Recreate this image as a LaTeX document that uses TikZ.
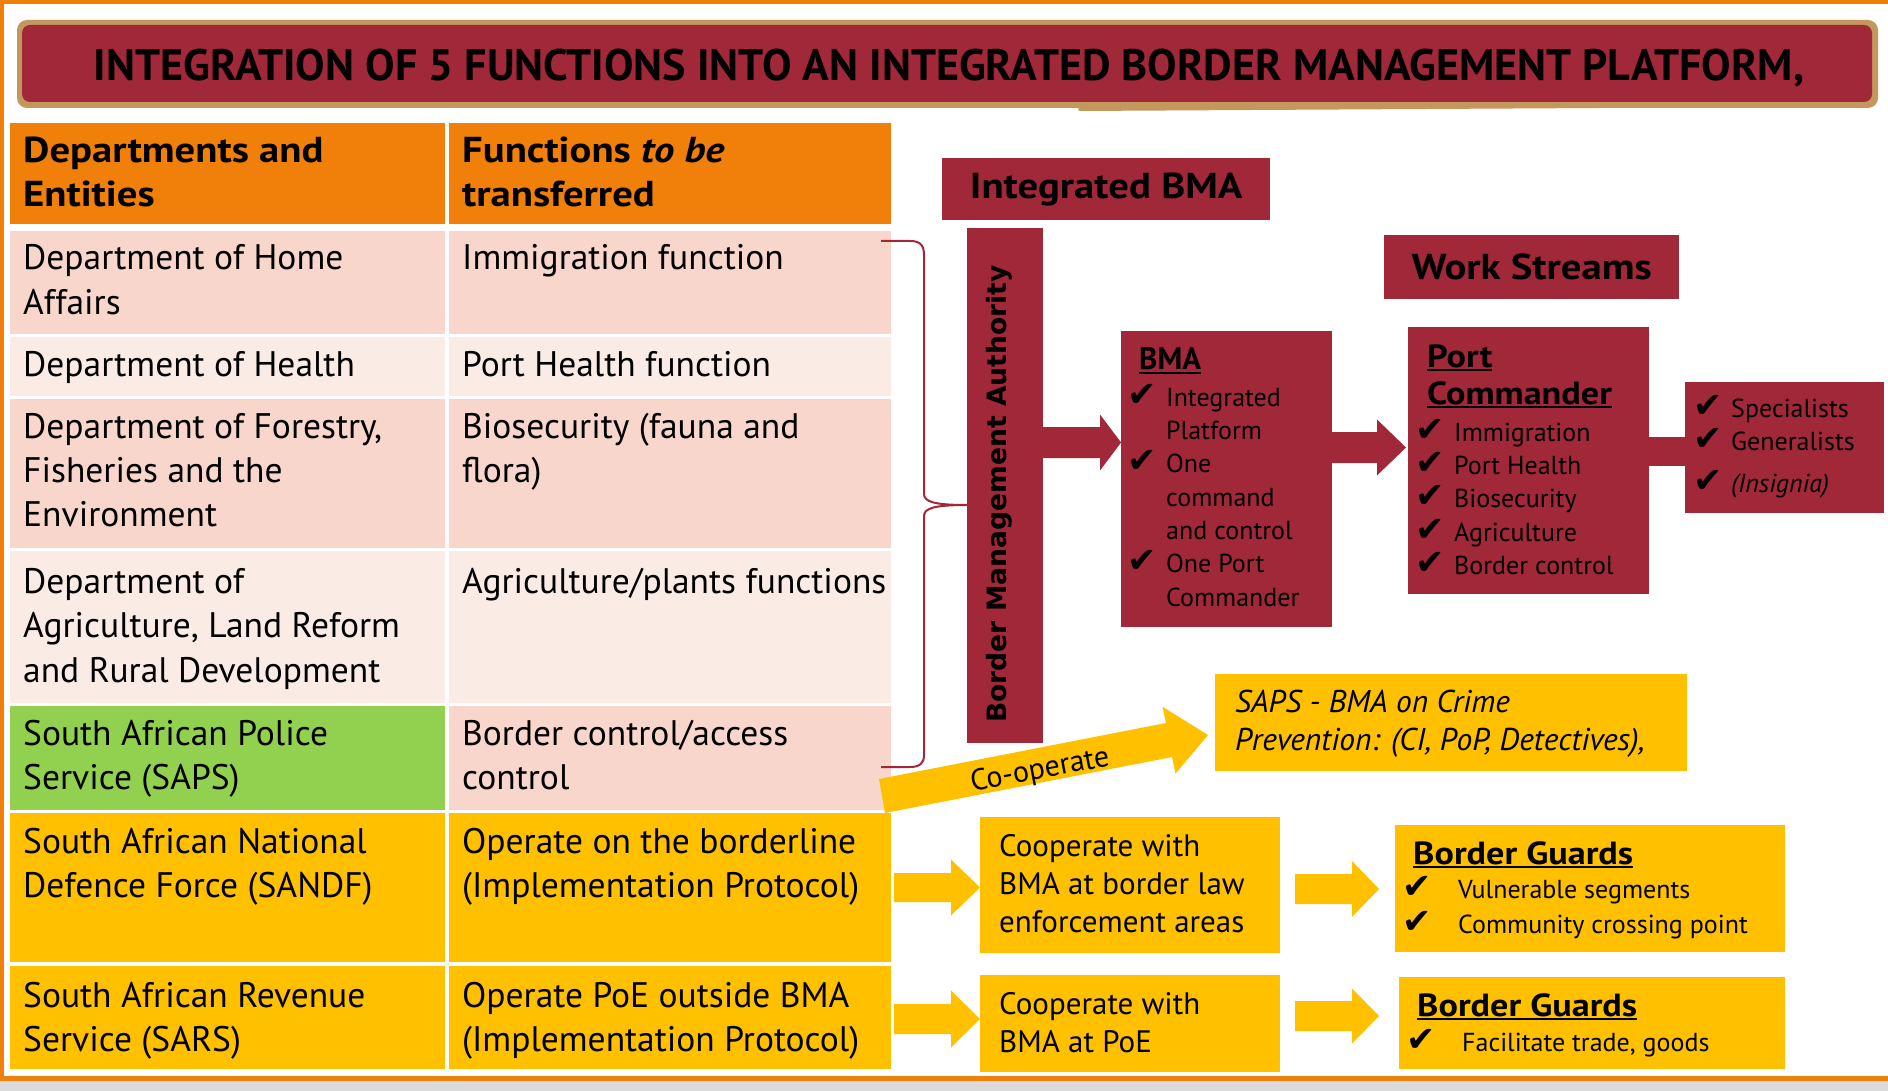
\documentclass[tikz,border=0pt]{standalone}
\usepackage{graphicx}
\usepackage{fontspec}
\setmainfont{PT Sans}
\newfontfamily\gfam{PT Sans}[FakeStretch=1.13]
\newfontfamily\vfont{DejaVu Sans}
\usetikzlibrary{calc}
\definecolor{bred}{RGB}{160,40,56}
\definecolor{tanc}{RGB}{196,152,92}
\definecolor{orng}{RGB}{240,128,10}
\definecolor{pinkA}{RGB}{248,214,203}
\definecolor{pinkB}{RGB}{251,235,229}
\definecolor{grn}{RGB}{146,208,80}
\definecolor{ylw}{RGB}{255,192,0}
\newcommand\fsz[2]{\fontsize{#1}{#2}\selectfont}
\newcommand\tfont{\fsz{35.5}{44.5}}
\newcommand\hfont{\gfam\fsz{36}{44.5}\bfseries}
\newcommand\lfont{\fsz{26}{33.4}}
\newcommand\cfont{\fsz{31}{38}}
\newcommand\bgfont{\gfam\fsz{32}{37}\bfseries}
\newcommand\hul[1]{\setbox0=\hbox{#1}\rlap{\copy0}\rule[-0.13em]{\wd0}{0.08em}}
\newcommand\ck{{\vfont\scalebox{1.35}{✔}}}
\newcommand\ci{\makebox[39pt][l]{\ck}}
\newcommand\cj{\makebox[38pt][l]{\ck}}
\newcommand\sk{\hspace*{39pt}}
\newcommand\cl[1]{\begin{tabular}[t]{@{}l@{}}#1\end{tabular}}
\newcommand\barrow[7]{\fill[#1] (#2,#5-#6) -- (#4,#5-#6) -- (#4,#5-#7) -- (#3,#5) -- (#4,#5+#7) -- (#4,#5+#6) -- (#2,#5+#6) -- cycle;}
\begin{document}
\begin{tikzpicture}[x=1pt,y=-1pt,
  txt/.style={anchor=base west, inner sep=0pt},
  rbox/.style={fill=bred, inner sep=0pt, anchor=north west},
  ybox/.style={fill=ylw, inner sep=0pt, anchor=north west}]
\useasboundingbox (0,0) rectangle (1888,1091);
\fill[white] (0,0) rectangle (1888,1091);
% frame
\fill[orng] (0,0) rectangle (1888,4);
\fill[orng] (0,0) rectangle (4,1080);
\fill[orng] (0,1076) rectangle (1888,1081);
\fill[black!14] (0,1081) rectangle (1888,1091);
% title banner
\fill[tanc, rounded corners=10] (17,20) rectangle (1878,108);
\fill[tanc] (1076,100) -- (1079,111) -- (1600,108) -- (1600,100) -- cycle;
\fill[bred, rounded corners=8] (22,25) rectangle (1872,102);
\node[font=\bfseries, inner sep=0pt] (title) at (949,68) {\resizebox{1710pt}{!}{INTEGRATION OF 5 FUNCTIONS INTO AN INTEGRATED BORDER MANAGEMENT PLATFORM,}};
% table backgrounds
\fill[orng] (10,123) rectangle (445,224);
\fill[orng] (449,123) rectangle (891,224);
\fill[pinkA] (10,231) rectangle (445,334);
\fill[pinkA] (449,231) rectangle (891,334);
\fill[pinkB] (10,337) rectangle (445,396);
\fill[pinkB] (449,337) rectangle (891,396);
\fill[pinkA] (10,399) rectangle (445,548);
\fill[pinkA] (449,399) rectangle (891,548);
\fill[pinkB] (10,551) rectangle (445,703);
\fill[pinkB] (449,551) rectangle (891,703);
\fill[grn] (10,706) rectangle (445,810);
\fill[pinkA] (449,706) rectangle (891,810);
\fill[ylw] (10,813) rectangle (445,962);
\fill[ylw] (449,813) rectangle (891,962);
\fill[ylw] (10,966) rectangle (445,1069);
\fill[ylw] (449,966) rectangle (891,1069);
% table texts
\node[txt, font=\hfont] (hd1) at (23,162.5) {\cl{Departments and\\Entities}};
\node[txt, font=\hfont] (hd2) at (462,162.5) {\cl{Functions \textit{to be}\\transferred}};
\node[txt, font=\tfont] (d1) at (23,270) {\cl{Department of Home\\Affairs}};
\node[txt, font=\tfont] (f1) at (462,270) {Immigration function};
\node[txt, font=\tfont] (d2) at (23,377) {Department of Health};
\node[txt, font=\tfont] (f2) at (462,377) {Port Health function};
\node[txt, font=\tfont] (d3) at (23,438) {\cl{Department of Forestry,\\Fisheries and the\\Environment}};
\node[txt, font=\tfont] (f3) at (462,438) {\cl{Biosecurity (fauna and\\flora)}};
\node[txt, font=\tfont] (d4) at (23,593) {\cl{Department of\\Agriculture, Land Reform\\and Rural Development}};
\node[txt, font=\tfont] (f4) at (462,593) {Agriculture/plants functions};
\node[txt, font=\tfont] (d5) at (23,745) {\cl{South African Police\\Service (SAPS)}};
\node[txt, font=\tfont] (f5) at (462,745) {\cl{Border control/access\\control}};
\node[txt, font=\tfont] (d6) at (23,853) {\cl{South African National\\Defence Force (SANDF)}};
\node[txt, font=\tfont] (f6) at (462,853) {\cl{Operate on the borderline\\(Implementation Protocol)}};
\node[txt, font=\tfont] (d7) at (23,1007) {\cl{South African Revenue\\Service (SARS)}};
\node[txt, font=\tfont] (f7) at (462,1007) {\cl{Operate PoE outside BMA\\(Implementation Protocol)}};
% boxes
\node[rbox, minimum width=328, minimum height=62, font=\gfam\fsz{36}{40}\bfseries] (ibma) at (942,158) {Integrated BMA};
\node[rbox, minimum width=76, minimum height=515] (bar) at (967,228) {};
\node[rotate=90, inner sep=0pt, font=\fsz{26.6}{30}\vfont\bfseries] (bart) at (999,494) {Border Management Authority};
\node[rbox, minimum width=295, minimum height=64, font=\gfam\fsz{36}{40}\bfseries] (ws) at (1384,235) {Work Streams};
\node[rbox, minimum width=211, minimum height=296] (bma) at (1121,331) {};
\node[rbox, minimum width=241, minimum height=267] (port) at (1408,327) {};
\node[rbox, minimum width=199, minimum height=131] (spec) at (1685,382) {};
\node[ybox, minimum width=472, minimum height=97] (saps) at (1215,674) {};
\node[ybox, minimum width=300, minimum height=136] (coop1) at (980,817) {};
\node[ybox, minimum width=390, minimum height=127] (bg1) at (1395,825) {};
\node[ybox, minimum width=300, minimum height=97] (coop2) at (980,975) {};
\node[ybox, minimum width=386, minimum height=92] (bg2) at (1399,977) {};
% brace
\draw[bred, line width=2pt] (881,241) -- (910,241) .. controls (920,241) and (924,245) .. (924,255) -- (924,494) .. controls (924,502) and (935,505) .. (bar.west |- 0,505) .. controls (935,505) and (924,508) .. (924,516) -- (924,755) .. controls (924,763) and (920,767) .. (910,767) -- (881,767);
% arrows
\barrow{bred}{1043}{1121}{1100}{442.5}{15.5}{28}
\barrow{bred}{1332}{1406}{1377}{447.5}{15.5}{28}
\fill[bred] (1648,437) rectangle (1686,466);
\barrow{ylw}{894}{980}{951}{887.5}{14.5}{28}
\barrow{ylw}{1295}{1379}{1352}{889}{15}{28}
\barrow{ylw}{894}{980}{951}{1019}{15}{28.5}
\barrow{ylw}{1295}{1379}{1352}{1016}{15}{27.5}
\fill[ylw] (885,813) -- (1172,757) -- (1175.5,773.6) -- (1208,735) -- (1162.5,706.8) -- (1166,723) -- (879,779) -- cycle;
\node[rotate=10.6, inner sep=0pt, font=\fsz{30}{34}] (coopt) at (1040,771) {Co-operate};
% box texts
\node[txt, font=\fsz{31}{36}\bfseries] (bmah) at (1139,370) {\hul{BMA}};
\node[txt, font=\lfont] (bmal) at (1127,406) {\cl{\ci Integrated\\\sk Platform\\\ci One\\\sk command\\\sk and control\\\ci One Port\\\sk Commander}};
\node[txt, font=\gfam\fsz{32}{37}\bfseries] (porth) at (1427,367) {\cl{\hul{Port}\\\hul{Commander}}};
\node[txt, font=\lfont] (portl) at (1415,441) {\cl{\ci Immigration\\\ci Port Health\\\ci Biosecurity\\\ci Agriculture\\\ci Border control}};
\node[txt, font=\lfont] (specl) at (1693,417) {\cl{\cj Specialists\\\cj Generalists\\[9pt]\cj \textit{(Insignia)}}};
\node[txt, font=\fsz{31.5}{38}\itshape] (sapst) at (1235,712) {\cl{SAPS - BMA on Crime\\Prevention: (CI, PoP, Detectives),}};
\node[txt, font=\cfont] (c1t) at (999,856) {\cl{Cooperate with\\BMA at border law\\enforcement areas}};
\node[txt, font=\cfont] (c2t) at (999,1014) {\cl{Cooperate with\\BMA at PoE}};
\node[txt, font=\bgfont] (bg1h) at (1413,864) {\hul{Border Guards}};
\node[txt, font=\fsz{26}{35}] (bg1l) at (1402,898) {\cl{\makebox[56pt][l]{\ck}Vulnerable segments\\\makebox[56pt][l]{\ck}Community crossing point}};
\node[txt, font=\bgfont] (bg2h) at (1417,1016) {\hul{Border Guards}};
\node[txt, font=\fsz{26}{35}] (bg2l) at (1406,1051) {\makebox[56pt][l]{\ck}Facilitate trade, goods};
\end{tikzpicture}
\end{document}
